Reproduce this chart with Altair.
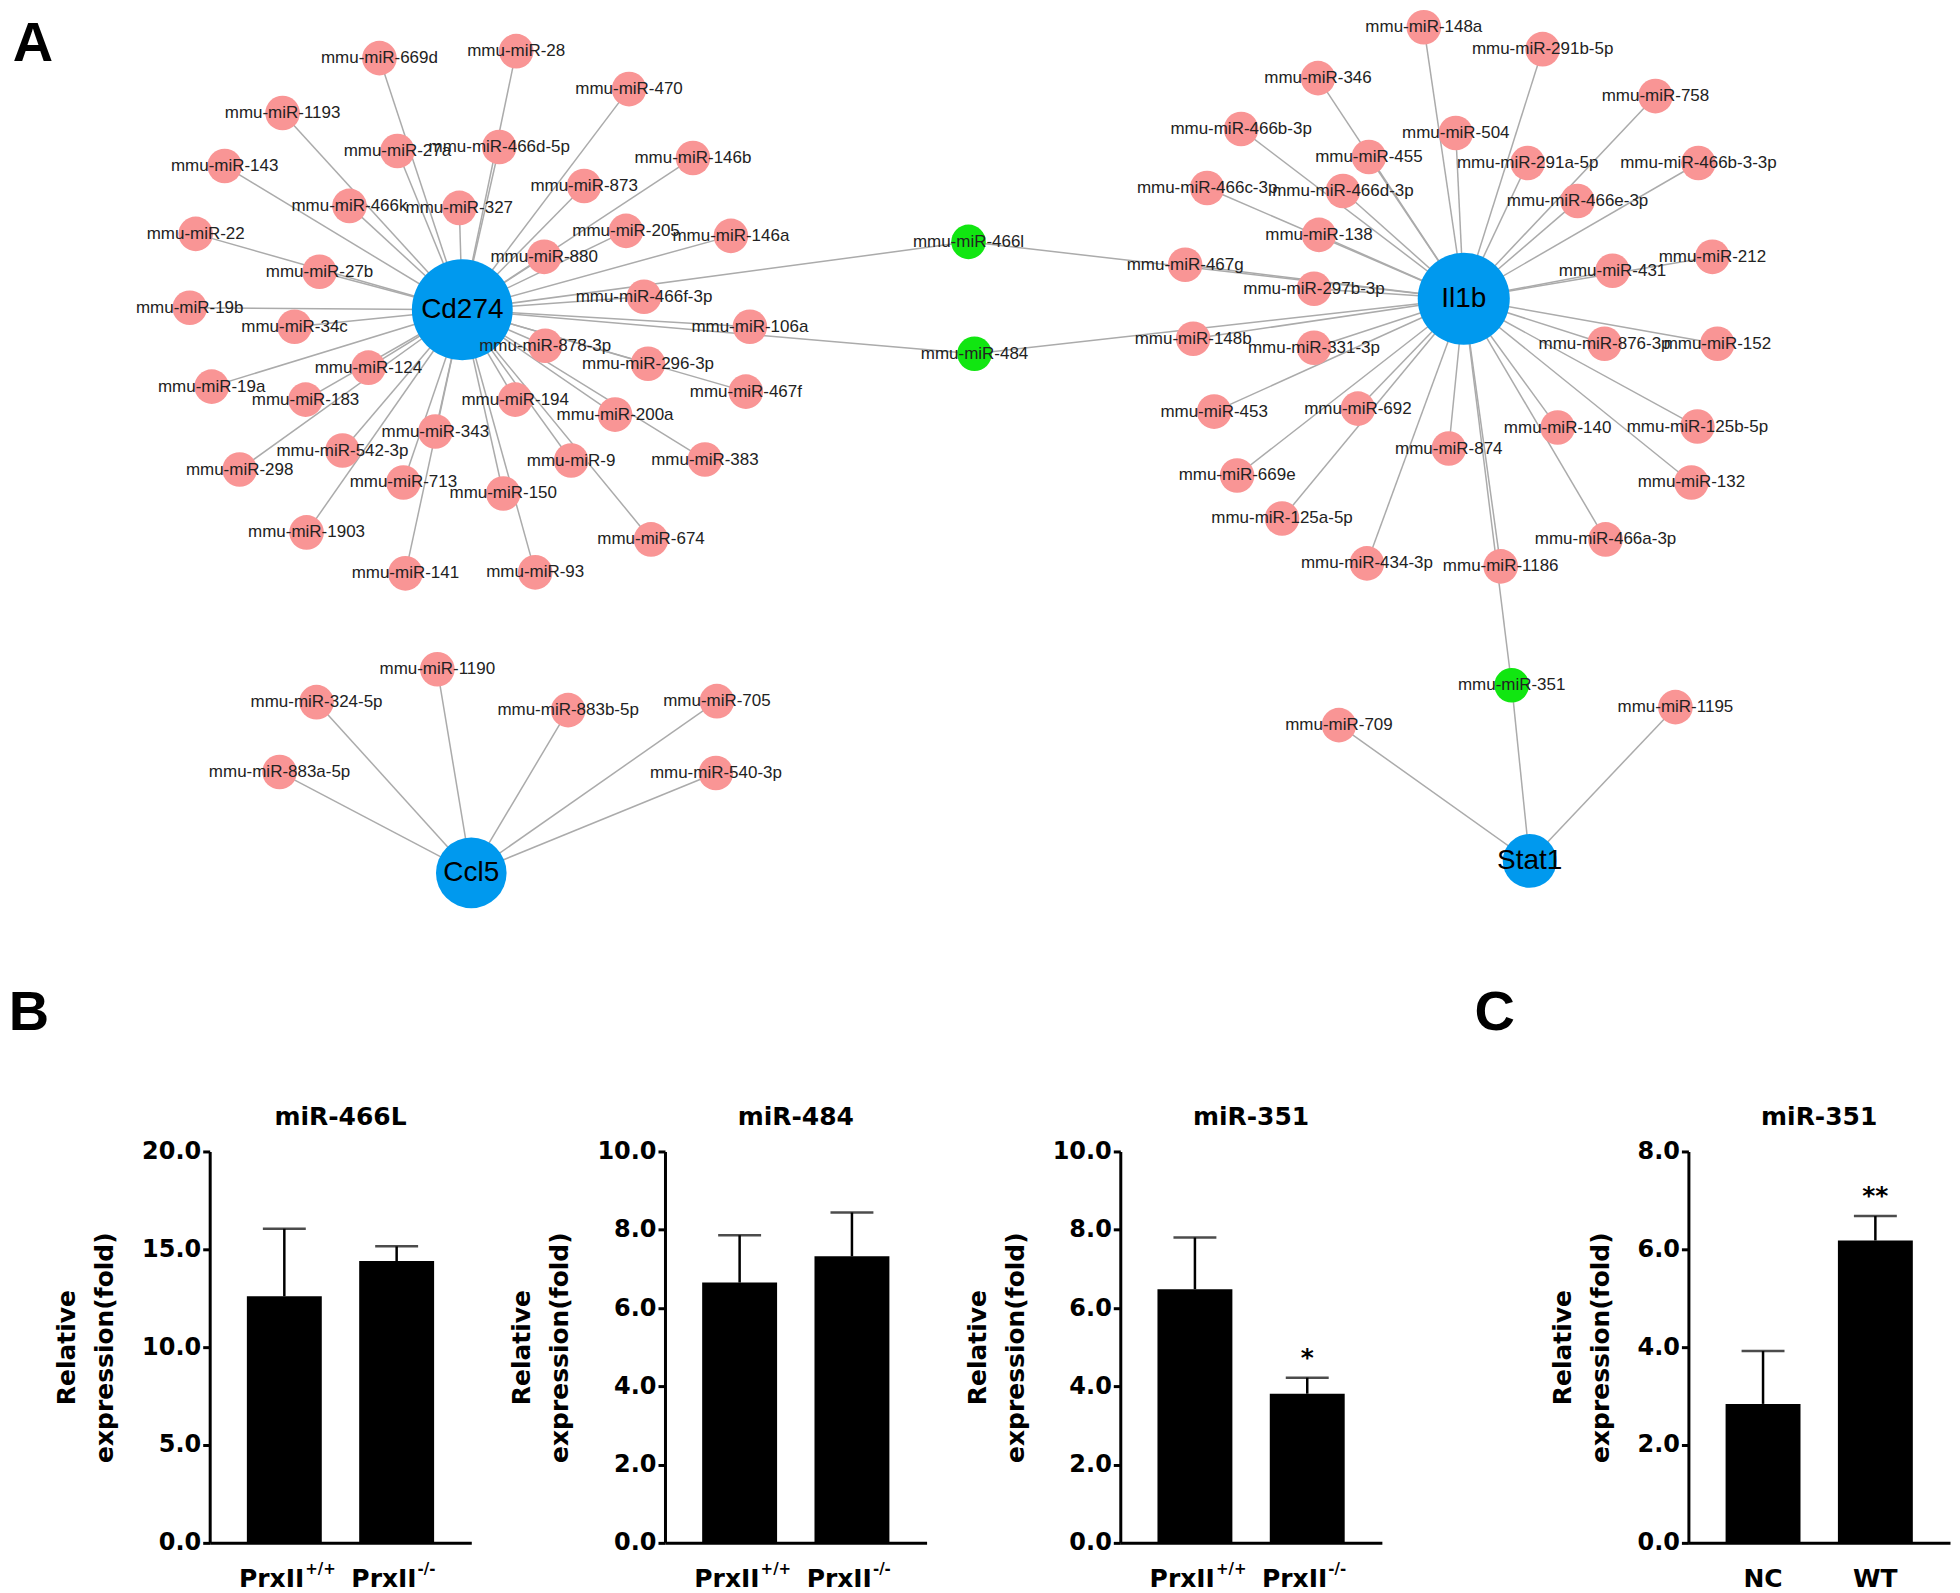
import altair as alt
import pandas as pd

# ---------------- Panel A: network (layout) ----------------
hub_names = ["Cd274", "Il1b", "Ccl5", "Stat1"]
hub_x = [460, 1463, 469, 1529]
hub_y = [306, 295, 870, 858]

cd274_mirs = ["669d", "28", "1193", "143", "27a", "466d-5p", "466k", "327", "22", "27b",
              "880", "19b", "34c", "124", "19a", "183", "298", "542-3p", "343", "713",
              "1903", "141", "194", "150", "93", "878-3p", "470", "146b", "873", "205",
              "146a", "466f-3p", "106a", "296-3p", "467f", "200a", "9", "383", "674"]
cd274_x = [377, 514, 280, 222, 395, 497, 347, 457, 193, 317,
           542, 187, 292, 366, 209, 303, 237, 340, 433, 401,
           304, 403, 513, 501, 533, 543, 627, 691, 582, 624,
           729, 642, 748, 646, 744, 613, 569, 703, 649]
cd274_y = [54, 47, 109, 162, 147, 143, 202, 204, 230, 268,
           253, 304, 323, 364, 383, 396, 466, 447, 428, 479,
           529, 570, 396, 490, 569, 342, 85, 154, 182, 227,
           232, 293, 323, 360, 388, 411, 457, 456, 536]

il1b_mirs = ["148a", "291b-5p", "346", "466b-3p", "504", "455", "291a-5p", "466c-3p", "466d-3p", "138",
             "467g", "297b-3p", "758", "466b-3-3p", "466e-3p", "431", "212", "148b", "331-3p", "453",
             "692", "874", "669e", "125a-5p", "434-3p", "1186", "140", "876-3p", "152", "125b-5p",
             "132", "466a-3p"]
il1b_x = [1423, 1542, 1317, 1240, 1455, 1368, 1527, 1206, 1342, 1318,
          1184, 1313, 1655, 1698, 1577, 1612, 1712, 1192, 1313, 1213,
          1357, 1448, 1236, 1281, 1366, 1500, 1557, 1604, 1717, 1697,
          1691, 1605]
il1b_y = [23, 45, 74, 125, 129, 153, 159, 184, 187, 231,
          261, 285, 92, 159, 197, 267, 253, 335, 344, 408,
          405, 445, 472, 515, 560, 563, 424, 340, 340, 423,
          479, 536]

ccl5_mirs = ["1190", "324-5p", "883b-5p", "705", "883a-5p", "540-3p"]
ccl5_x = [435, 314, 566, 715, 277, 714]
ccl5_y = [666, 699, 707, 698, 769, 770]

stat1_mirs = ["709", "1195"]
stat1_x = [1338, 1675]
stat1_y = [722, 704]

shared_mirs = ["466l", "484", "351"]
shared_x = [967, 973, 1511]
shared_y = [238, 350, 682]
shared_targets = [["Cd274", "Il1b"], ["Cd274", "Il1b"], ["Il1b", "Stat1"]]

panel_letters = ["A", "B", "C"]
letter_x = [30, 26, 1494]
letter_y = [40, 1010, 1010]

# ---------------- Panels B / C: qPCR bars ----------------
genotypes = ["PrxII+/+", "PrxII-/-"]
geno_base = ["PrxII", "PrxII"]
geno_sup = ["+/+", "\u00a0-/-"]
mir466l_mean = [12.6, 14.4]
mir466l_sd = [3.45, 0.75]
mir484_mean = [6.65, 7.32]
mir484_sd = [1.21, 1.12]
mir351_mean = [6.48, 3.81]
mir351_sd = [1.32, 0.41]
mir351_stars = ["", "*"]

groups_c = ["NC", "WT"]
mir351c_mean = [2.84, 6.18]
mir351c_sd = [1.08, 0.50]
mir351c_stars = ["", "**"]

# ---------------- build tables ----------------
hub_pos = {n: (x, y) for n, x, y in zip(hub_names, hub_x, hub_y)}
hub_size = {"Cd274": 10200, "Il1b": 8500, "Ccl5": 5000, "Stat1": 2900}
MIR_SIZE = 1200

node_rows, edge_rows = [], []
for hub, names, xs_, ys_ in [("Cd274", cd274_mirs, cd274_x, cd274_y),
                             ("Il1b", il1b_mirs, il1b_x, il1b_y),
                             ("Ccl5", ccl5_mirs, ccl5_x, ccl5_y),
                             ("Stat1", stat1_mirs, stat1_x, stat1_y)]:
    for n, x, y in zip(names, xs_, ys_):
        node_rows.append({"label": "mmu-miR-" + n, "x": x, "y": y, "kind": "mirna", "size": MIR_SIZE})
        hx, hy = hub_pos[hub]
        edge_rows.append({"x": x, "y": y, "x2": hx, "y2": hy})
for n, x, y, tg in zip(shared_mirs, shared_x, shared_y, shared_targets):
    node_rows.append({"label": "mmu-miR-" + n, "x": x, "y": y, "kind": "shared", "size": MIR_SIZE})
    for h in tg:
        hx, hy = hub_pos[h]
        edge_rows.append({"x": x, "y": y, "x2": hx, "y2": hy})
mir_df = pd.DataFrame(node_rows)
hub_df = pd.DataFrame({"label": hub_names, "x": hub_x, "y": hub_y, "kind": "gene",
                       "size": [hub_size[h] for h in hub_names]})
node_df = pd.concat([mir_df, hub_df], ignore_index=True)
edge_df = pd.DataFrame(edge_rows)
letter_df = pd.DataFrame({"t": panel_letters, "x": letter_x, "y": letter_y})

NW, NH = 1944, 1060
xsc = alt.Scale(domain=[8, 8 + NW], nice=False, zero=False)
ysc = alt.Scale(domain=[8, 8 + NH], nice=False, zero=False, reverse=True)
X = alt.X("x:Q", scale=xsc, axis=None)
Y = alt.Y("y:Q", scale=ysc, axis=None)

edges = alt.Chart(edge_df).mark_rule(color="#ABABAB", strokeWidth=1.5).encode(
    x=X, y=Y, x2="x2:Q", y2="y2:Q")
nodes = alt.Chart(node_df).mark_circle(opacity=1).encode(
    x=X, y=Y,
    size=alt.Size("size:Q", scale=None),
    color=alt.Color("kind:N", legend=None,
                    scale=alt.Scale(domain=["mirna", "shared", "gene"],
                                    range=["#F99595", "#11E611", "#0099EE"])))
mir_labels = alt.Chart(mir_df).mark_text(font="Liberation Sans", fontSize=17, color="#222222").encode(
    x=X, y=Y, text="label:N")
hub_labels = alt.Chart(hub_df).mark_text(font="Liberation Sans", fontSize=28, color="#000000").encode(
    x=X, y=Y, text="label:N")
letters = alt.Chart(letter_df).mark_text(font="Liberation Sans", fontSize=56, fontWeight="bold",
                                         color="#000000").encode(x=X, y=Y, text="t:N")
network = alt.layer(edges, nodes, mir_labels, hub_labels, letters).properties(width=NW, height=NH)

# ---------------- bar panels ----------------
PW, PH = 262, 392
FONT = "DejaVu Sans"


def bar_panel(title, cats, means, sds, ymax, step, base=None, sup=None, stars=None):
    df = pd.DataFrame({
        "g": cats, "m": means, "hi": [m + s for m, s in zip(means, sds)],
        "base": base if base else cats, "sup": sup if sup else ["", ""],
        "star": stars if stars else ["", ""],
    })
    xaxis = alt.Axis(title=None, labels=False, ticks=False, domainColor="black", domainWidth=3)
    xs = alt.Scale(domain=cats, paddingInner=0.333, paddingOuter=0.331)
    xe = alt.X("g:N", scale=xs, axis=xaxis, sort=cats)
    ticks = [round(i * step, 1) for i in range(int(round(ymax / step)) + 1)]
    yaxis = alt.Axis(values=ticks, format=".1f", grid=False,
                     title=["Relative", "expression(fold)"], titleFont=FONT, titleFontSize=25,
                     titleFontWeight="bold", titleColor="black", titleLineHeight=38, titlePadding=24,
                     labelFont=FONT, labelFontSize=24, labelFontWeight="bold", labelColor="black",
                     labelPadding=2, tickSize=7, tickWidth=3, tickColor="black",
                     domainColor="black", domainWidth=3)
    ys = alt.Scale(domain=[0, ymax], nice=False)
    bars = alt.Chart(df).mark_bar(color="black").encode(x=xe, y=alt.Y("m:Q", scale=ys, axis=yaxis))
    err = alt.Chart(df).mark_rule(color="black", strokeWidth=2.5).encode(
        x=xe, y=alt.Y("m:Q", scale=ys, axis=yaxis), y2="hi:Q")
    cap = alt.Chart(df).mark_tick(color="black", thickness=2.5, size=43).encode(
        x=xe, y=alt.Y("hi:Q", scale=ys, axis=yaxis))
    star = alt.Chart(df).mark_text(font=FONT, fontSize=25, fontWeight="bold", color="black",
                                   baseline="alphabetic", dy=-12).encode(
        x=xe, y=alt.Y("hi:Q", scale=ys, axis=yaxis), text="star:N")
    if sup:
        lab = alt.Chart(df).mark_text(font=FONT, fontSize=25, fontWeight="bold", color="black",
                                      align="right", dx=20).encode(
            x=xe, y=alt.value(PH + 36), text="base:N")
        lab2 = alt.Chart(df).mark_text(font=FONT, fontSize=15, fontWeight="bold", color="black",
                                       align="left", dx=21, dy=-10).encode(
            x=xe, y=alt.value(PH + 36), text="sup:N")
        layers = [bars, err, cap, star, lab, lab2]
    else:
        lab = alt.Chart(df).mark_text(font=FONT, fontSize=25, fontWeight="bold", color="black").encode(
            x=xe, y=alt.value(PH + 36), text="base:N")
        layers = [bars, err, cap, star, lab]
    return alt.layer(*layers).properties(
        width=PW, height=PH,
        title=alt.TitleParams(title, font=FONT, fontSize=25, fontWeight="bold", color="black",
                              offset=9, frame="group", anchor="middle"))


b1 = bar_panel("miR-466L", genotypes, mir466l_mean, mir466l_sd, 20, 5, geno_base, geno_sup)
b2 = bar_panel("miR-484", genotypes, mir484_mean, mir484_sd, 10, 2, geno_base, geno_sup)
b3 = bar_panel("miR-351", genotypes, mir351_mean, mir351_sd, 10, 2, geno_base, geno_sup, mir351_stars)
c1 = bar_panel("miR-351", groups_c, mir351c_mean, mir351c_sd, 8, 2, stars=mir351c_stars)

spacer = alt.Chart(pd.DataFrame({"v": [0]})).mark_point(opacity=0).encode(
    x=alt.X("v:Q", axis=None), y=alt.Y("v:Q", axis=None)).properties(width=1, height=PH)

row = alt.hconcat(spacer,
                  alt.hconcat(alt.hconcat(b1, b2, b3, spacing=38), c1, spacing=168),
                  spacing=39)

chart = alt.vconcat(network, row, spacing=35).properties(padding=0, background="white")
chart = chart.configure_view(stroke=None)

chart.save("out.html", embed_options={"renderer": "svg", "actions": False})
